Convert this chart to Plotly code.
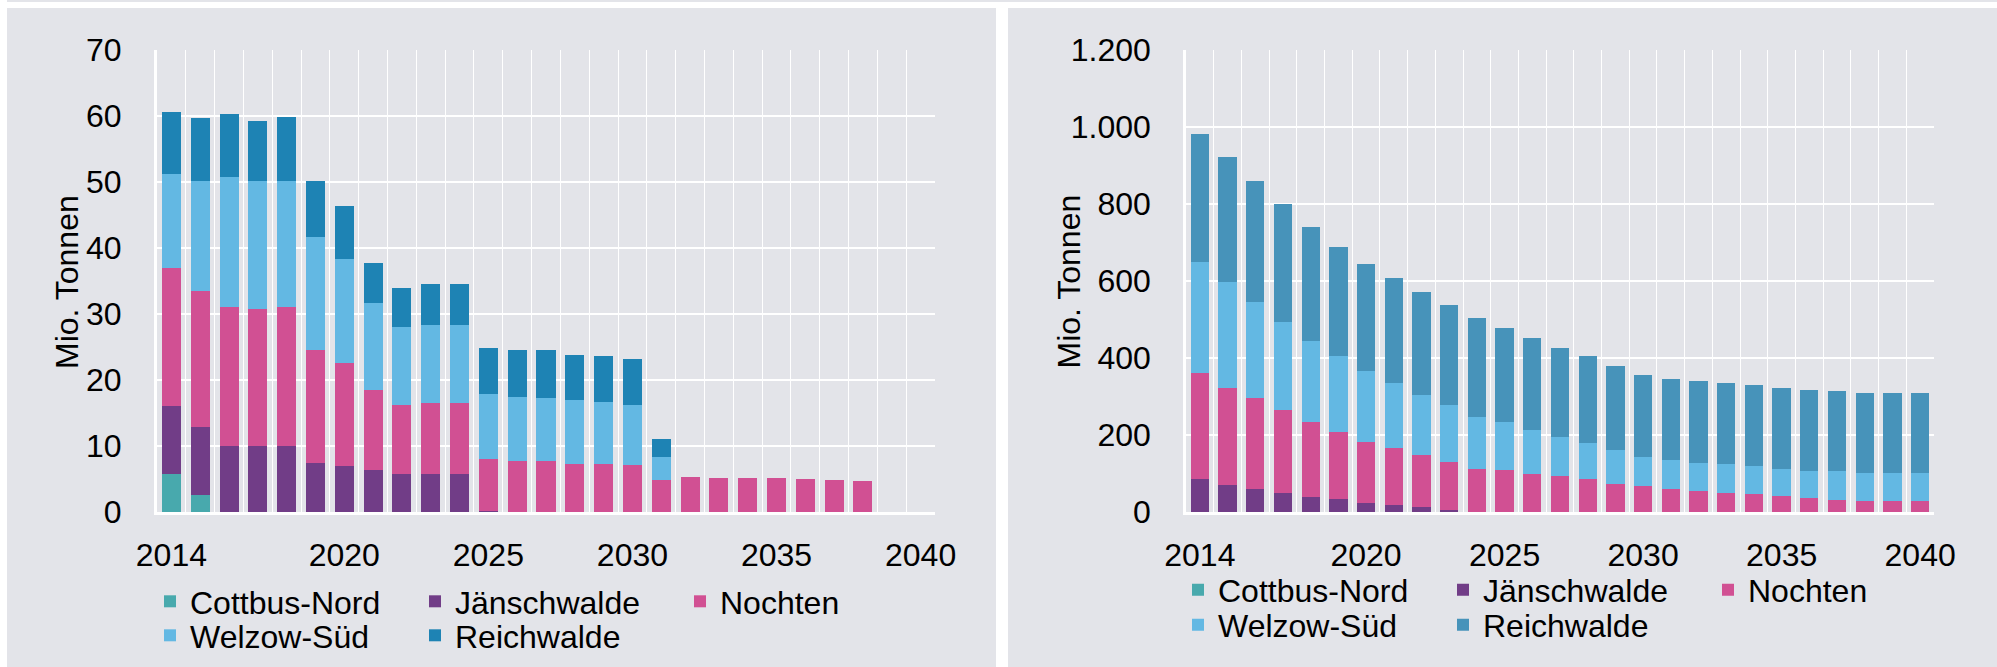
import plotly.graph_objects as go

W, H = 1997, 667

# ---------------- data ----------------
years = [2014, 2015, 2016, 2017, 2018, 2019, 2020, 2021, 2022, 2023, 2024, 2025, 2026,
         2027, 2028, 2029, 2030, 2031, 2032, 2033, 2034, 2035, 2036, 2037, 2038, 2039, 2040]
x_tick_years = [2014, 2020, 2025, 2030, 2035, 2040]
series_names = ["Cottbus-Nord", "Jänschwalde", "Nochten", "Welzow-Süd", "Reichwalde"]

# left chart: annual output (Mio. Tonnen)
prod_cottbus = [5.8, 2.6, 0, 0, 0, 0, 0, 0, 0, 0, 0, 0, 0, 0, 0, 0, 0, 0, 0, 0, 0, 0, 0, 0, 0, 0, 0]
prod_jaensch = [10.3, 10.3, 10.0, 10.0, 10.0, 7.4, 7.0, 6.4, 5.8, 5.8, 5.8, 0.2, 0, 0, 0, 0, 0,
                0, 0, 0, 0, 0, 0, 0, 0, 0, 0]
prod_nochten = [20.9, 20.6, 21.0, 20.8, 21.0, 17.2, 15.6, 12.1, 10.4, 10.7, 10.7, 7.8, 7.7, 7.7,
                7.3, 7.3, 7.15, 4.8, 5.3, 5.1, 5.1, 5.1, 5.0, 4.8, 4.65, 0, 0]
prod_welzow = [14.2, 16.7, 19.8, 19.4, 19.2, 17.0, 15.7, 13.2, 11.9, 11.9, 11.9, 9.9, 9.8, 9.6,
               9.7, 9.4, 9.1, 3.5, 0, 0, 0, 0, 0, 0, 0, 0, 0]
prod_reich = [9.4, 9.5, 9.5, 9.1, 9.6, 8.6, 8.1, 6.1, 5.9, 6.2, 6.2, 7.0, 7.1, 7.3, 6.8, 7.0,
              7.0, 2.7, 0, 0, 0, 0, 0, 0, 0, 0, 0]

# right chart: remaining reserves (Mio. Tonnen)
res_cottbus = [0, 0, 0, 0, 0, 0, 0, 0, 0, 0, 0, 0, 0, 0, 0, 0, 0, 0, 0, 0, 0, 0, 0, 0, 0, 0, 0]
res_jaensch = [85, 69, 59, 48.5, 38, 33, 22.6, 17.4, 12, 4, 0, 0, 0, 0, 0, 0, 0, 0, 0, 0, 0, 0,
               0, 0, 0, 0, 0]
res_nochten = [275, 254, 236, 215.5, 195, 174, 158.4, 147.6, 135, 127, 113, 108, 98, 93, 85, 74,
               68, 60.5, 54.4, 49.3, 46.7, 41.5, 36.3, 31.1, 28.5, 28.5, 28.5]
res_welzow = [290, 275, 251, 230, 212, 199, 184, 169, 158, 148, 135, 125, 116, 103, 93, 88, 76,
              75.5, 72.6, 75.1, 72.6, 70, 70, 75.2, 72.6, 72.6, 72.6]
res_reich = [332, 324, 314, 306, 296, 283, 280, 274, 267, 259, 257, 246, 239, 231, 226, 218, 212,
             210, 213, 209.6, 210, 210, 210, 207.4, 207.4, 207.4, 207.4]

# ---------------- styling ----------------
PANEL = "#E3E4E9"
colors_left = ["#48A9AD", "#713D87", "#D15093", "#63B8E3", "#1E83B4"]
colors_right = ["#48A9AD", "#713D87", "#D15093", "#63B8E3", "#4793BA"]
FONT = "Liberation Sans, Arial, sans-serif"
FS = 32


def px_x(p):
    return p / W


def px_y(p):
    return 1 - p / H


fig = go.Figure()

left_series = [prod_cottbus, prod_jaensch, prod_nochten, prod_welzow, prod_reich]
right_series = [res_cottbus, res_jaensch, res_nochten, res_welzow, res_reich]

for i, (name, vals) in enumerate(zip(series_names, left_series)):
    fig.add_trace(go.Bar(
        x=years, y=vals, name=name, xaxis="x", yaxis="y",
        marker=dict(color=colors_left[i], line=dict(width=0)),
        legend="legend" if i < 3 else "legend2",
    ))

for i, (name, vals) in enumerate(zip(series_names, right_series)):
    fig.add_trace(go.Bar(
        x=years, y=vals, name=name, xaxis="x2", yaxis="y2",
        marker=dict(color=colors_right[i], line=dict(width=0)),
        legend="legend3" if i < 3 else "legend4",
    ))

ydom = [px_y(512), px_y(50)]
minor_vals = [y - 0.5 for y in years] + [years[-1] + 0.5]

common_x = dict(
    type="linear", range=[years[0] - 0.5, years[-1] + 0.5],
    tickmode="array", tickvals=x_tick_years, ticks="", showgrid=False,
    zeroline=False, showline=True, linecolor="white", linewidth=3,
    ticklabelstandoff=13, tickfont=dict(size=FS, color="black", family=FONT),
    minor=dict(tickmode="array", tickvals=minor_vals, showgrid=True,
               gridcolor="white", gridwidth=1.2, ticks=""),
)

fig.update_layout(
    xaxis=dict(domain=[px_x(157), px_x(935)], anchor="y", **common_x),
    xaxis2=dict(domain=[px_x(1186), px_x(1934)], anchor="y2", **common_x),
    yaxis=dict(domain=ydom, anchor="x", range=[0, 70], dtick=10, tick0=0,
               showgrid=True, gridcolor="white", gridwidth=2, zeroline=False,
               showline=True, linecolor="white", linewidth=3, ticks="",
               ticklabelstandoff=26, tickfont=dict(size=FS, color="black", family=FONT)),
    yaxis2=dict(domain=ydom, anchor="x2", range=[0, 1200], dtick=200, tick0=0,
                showgrid=True, gridcolor="white", gridwidth=1.6, zeroline=False,
                showline=True, linecolor="white", linewidth=2.5, ticks="",
                separatethousands=True,
                ticklabelstandoff=26, tickfont=dict(size=FS, color="black", family=FONT)),
)

legend_common = dict(
    orientation="h", xanchor="left", yanchor="top", entrywidth=220,
    entrywidthmode="pixels", bgcolor="rgba(0,0,0,0)", traceorder="normal",
    font=dict(size=FS, color="black", family=FONT), borderwidth=0,
)
off_l = 26.0
off_r = 26.5
fig.update_layout(
    legend=dict(x=px_x(150), y=px_y(600 - off_l), **legend_common),
    legend2=dict(x=px_x(150), y=px_y(634 - off_l), **legend_common),
    legend3=dict(x=px_x(1178), y=px_y(589 - off_r), **legend_common),
    legend4=dict(x=px_x(1178), y=px_y(624 - off_r), **legend_common),
)

# panel backgrounds
shapes = [
    dict(type="rect", xref="paper", yref="paper", x0=px_x(7), x1=px_x(1997),
         y0=px_y(2), y1=px_y(0), fillcolor=PANEL, line=dict(width=0), layer="below"),
    dict(type="rect", xref="paper", yref="paper", x0=px_x(7), x1=px_x(996),
         y0=px_y(667), y1=px_y(8), fillcolor=PANEL, line=dict(width=0), layer="below"),
    dict(type="rect", xref="paper", yref="paper", x0=px_x(1008), x1=px_x(1997),
         y0=px_y(667), y1=px_y(8), fillcolor=PANEL, line=dict(width=0), layer="below"),
]

annotations = [
    dict(text="Mio. Tonnen", xref="paper", yref="paper", x=px_x(67), y=px_y(282),
         xanchor="center", yanchor="middle", textangle=-90, showarrow=False,
         font=dict(size=FS, color="black", family=FONT)),
    dict(text="Mio. Tonnen", xref="paper", yref="paper", x=px_x(1068), y=px_y(281.5),
         xanchor="center", yanchor="middle", textangle=-90, showarrow=False,
         font=dict(size=FS, color="black", family=FONT)),
]

fig.update_layout(
    template="none",
    width=W, height=H,
    margin=dict(l=0, r=0, t=0, b=0, pad=0, autoexpand=False),
    paper_bgcolor="white", plot_bgcolor=PANEL,
    barmode="stack", bargap=0.34,
    separators=",.",
    font=dict(family=FONT, size=FS, color="black"),
    showlegend=True,
    shapes=shapes,
    annotations=annotations,
)

# remove the default 8px page margin so the figure sits at the window origin
fig.write_html(
    "out.html",
    config={"displayModeBar": False},
    post_script="document.body.style.margin='0px';document.body.style.overflow='hidden';",
)
